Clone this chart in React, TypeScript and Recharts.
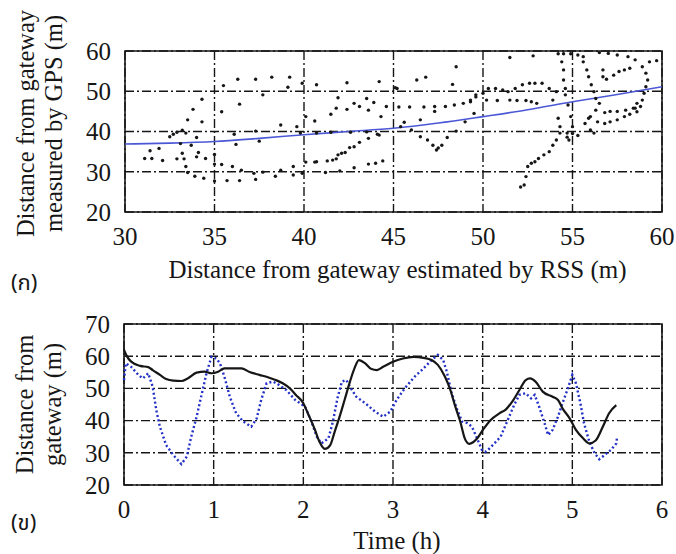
import React from "react";
import {
  ComposedChart,
  LineChart,
  Scatter,
  Line,
  XAxis,
  YAxis,
  CartesianGrid,
  ReferenceArea,
  Label,
} from "recharts";

// (a) RSS estimate vs GPS measurement, [rss, gps] in metres
const scatterPoints: [number, number][] = [
  [31.1, 33.3], [31.5, 33.3], [31.4, 35.2], [31.9, 35.8], [32.1, 32.8], [32.5, 38.7], [32.7, 39.3], [32.9, 39.8],
  [33.2, 40.3], [33.4, 39.6], [33.1, 37.0], [32.9, 33.2], [33.3, 33.2], [33.2, 34.6], [33.4, 31.3], [33.5, 42.9],
  [33.8, 45.5], [34.3, 48.0], [34.3, 42.4], [34.0, 38.5], [33.7, 36.6], [34.1, 34.8], [34.0, 33.7], [34.5, 33.3],
  [33.5, 29.8], [33.9, 28.9], [34.4, 28.4], [35.0, 34.3], [35.0, 31.9], [35.0, 27.7], [35.4, 44.9], [35.5, 51.4],
  [36.3, 53.0], [37.3, 53.0], [38.2, 53.5], [39.2, 53.5], [39.1, 51.0], [37.7, 49.1], [36.4, 46.8], [36.2, 36.8],
  [36.1, 39.3], [37.3, 40.1], [37.5, 37.6], [38.7, 41.6], [39.6, 41.2], [39.9, 52.0], [40.1, 43.7], [40.6, 42.6],
  [40.1, 32.4], [40.6, 32.4], [35.4, 31.8], [36.0, 31.3], [36.5, 30.4], [37.2, 29.6], [37.7, 29.9], [38.4, 28.9],
  [38.7, 30.4], [39.4, 31.3], [39.4, 29.2], [39.9, 29.6], [35.7, 27.8], [36.4, 27.8], [37.3, 28.1], [40.7, 51.6],
  [42.4, 52.1], [44.2, 52.4], [45.2, 50.7], [46.3, 52.8], [46.8, 53.5], [48.5, 56.1], [48.3, 51.7], [41.5, 44.3],
  [41.8, 45.8], [41.9, 48.4], [42.4, 45.5], [42.8, 47.0], [43.1, 46.2], [43.5, 48.2], [43.6, 45.3], [43.9, 47.2],
  [44.3, 43.7], [44.6, 46.2], [44.2, 39.1], [43.6, 38.3], [43.1, 37.3], [42.8, 36.2], [42.55, 36.0], [42.3, 34.8],
  [42.1, 34.6], [41.9, 34.2], [41.8, 33.2], [41.6, 32.9], [41.3, 32.7], [40.7, 32.5], [42.8, 31.0], [43.6, 31.9],
  [44.0, 32.1], [44.4, 32.7], [41.2, 29.8], [42.0, 30.2], [45.3, 46.1], [45.9, 46.1], [46.7, 46.1], [47.3, 46.2],
  [47.3, 45.0], [47.9, 46.2], [48.4, 46.6], [48.9, 47.0], [49.3, 47.4], [49.6, 48.6], [49.5, 44.5], [49.0, 42.4],
  [45.6, 42.3], [46.5, 42.9], [45.4, 41.2], [46.0, 40.4], [46.5, 38.7], [46.9, 37.9], [47.2, 36.6], [47.4, 35.4],
  [47.5, 35.9], [47.7, 36.6], [48.0, 38.5], [48.5, 40.1], [50.0, 49.5], [50.3, 50.7], [39.8, 39.6], [40.7, 39.6],
  [41.5, 39.8], [42.6, 39.8], [43.5, 39.9], [44.1, 39.3], [45.1, 50.9], [51.5, 58.4], [52.8, 58.8], [54.2, 59.3],
  [54.5, 59.3], [54.9, 59.3], [55.3, 59.0], [55.6, 58.6], [54.4, 57.3], [54.5, 55.3], [54.5, 52.8], [54.6, 50.7],
  [54.6, 49.1], [54.75, 46.6], [54.2, 43.3], [54.3, 41.2], [55.6, 57.3], [55.8, 55.3], [55.9, 53.6], [56.05, 51.6],
  [56.2, 49.9], [56.3, 48.2], [56.5, 47.0], [56.3, 45.3], [56.0, 43.7], [55.7, 42.0], [55.9, 43.3], [56.0, 40.4],
  [56.2, 39.6], [56.4, 42.4], [56.8, 42.0], [57.1, 42.4], [57.5, 42.9], [57.9, 43.7], [58.2, 44.3], [58.5, 45.8],
  [58.6, 47.0], [56.8, 44.7], [57.1, 45.0], [57.5, 45.0], [57.97, 45.3], [58.4, 45.8], [57.5, 59.0], [58.1, 58.6],
  [58.5, 57.8], [58.9, 56.1], [59.1, 54.5], [59.2, 52.8], [59.1, 51.1], [59.0, 49.5], [58.9, 47.8], [58.8, 46.2],
  [58.6, 44.9], [56.7, 55.3], [56.7, 53.6], [56.9, 53.0], [57.3, 54.0], [57.6, 54.9], [57.9, 55.3], [58.2, 55.7],
  [59.3, 57.3], [59.7, 57.6], [56.5, 59.6], [57.0, 59.4], [54.3, 39.6], [54.1, 37.9], [53.9, 36.6], [53.7, 35.0],
  [53.4, 34.2], [53.1, 33.3], [52.9, 32.5], [52.7, 32.1], [52.5, 31.3], [52.4, 28.8], [52.3, 26.7], [52.1, 26.2],
  [54.9, 43.7], [55.0, 41.2], [54.7, 39.6], [54.8, 37.9], [55.0, 39.5], [55.3, 39.0], [54.7, 38.6], [50.7, 50.7],
  [51.1, 50.3], [51.4, 49.9], [51.8, 50.7], [52.2, 51.6], [52.6, 52.0], [52.9, 52.0], [53.3, 52.0], [53.7, 50.7],
  [54.1, 49.9], [50.2, 47.8], [50.8, 47.7], [51.5, 47.8], [51.9, 47.7], [52.4, 47.7], [52.7, 47.4], [53.0, 47.0],
  [53.9, 47.8], [49.3, 47.8], [49.6, 49.1],
];

// fitted curve
const fitRss = [30, 32.5, 35, 37.5, 40, 42.5, 45, 47.5, 50, 52.5, 55, 57.5, 60];
const fitGps = [36.9, 37.1, 37.5, 38.3, 39.2, 40.0, 40.8, 42.1, 43.7, 45.4, 47.4, 49.2, 51.1];

const rssTicks = [30, 35, 40, 45, 50, 55, 60];
const gpsTicks = [20, 30, 40, 50, 60];

// (b) distance over time
const measuredTime = [
  0, 0.03, 0.08, 0.18, 0.27, 0.32, 0.4, 0.47, 0.55, 0.64, 0.71, 0.81, 0.9, 0.975, 1.05, 1.12, 1.22, 1.31, 1.4,
  1.51, 1.62, 1.7, 1.77, 1.85, 1.92, 2.0, 2.05, 2.13, 2.18, 2.24, 2.3, 2.35, 2.41, 2.46, 2.52, 2.57, 2.62, 2.69,
  2.76, 2.82, 2.89, 3.0, 3.11, 3.23, 3.34, 3.43, 3.5, 3.58, 3.64, 3.69, 3.75, 3.8, 3.85, 3.94, 4.01, 4.09, 4.19,
  4.26, 4.33, 4.41, 4.48, 4.53, 4.59, 4.67, 4.78, 4.84, 4.89, 4.97, 5.04, 5.12, 5.19, 5.26, 5.34, 5.41, 5.49,
];
const measuredDist = [
  62.0, 60.1, 58.3, 57.0, 56.6, 55.7, 54.2, 52.9, 52.4, 52.3, 53.1, 54.9, 55.2, 54.7, 55.2, 56.2, 56.2, 56.2, 55.1,
  54.2, 53.3, 52.5, 51.6, 50.0, 47.9, 45.4, 42.3, 37.1, 33.4, 31.2, 32.4, 36.6, 41.7, 46.4, 52.1, 56.2, 58.8, 57.8,
  56.0, 55.7, 56.7, 58.3, 59.3, 59.8, 59.5, 58.8, 57.3, 53.6, 49.5, 44.8, 39.7, 34.5, 32.8, 34.5, 37.4, 40.2, 42.3,
  43.5, 45.9, 49.5, 52.6, 53.1, 52.1, 49.0, 47.4, 46.4, 43.8, 40.7, 37.1, 34.5, 32.9, 33.8, 38.1, 42.3, 44.8,
];

const estimatedTime = [
  0, 0.02, 0.08, 0.16, 0.21, 0.27, 0.32, 0.36, 0.4, 0.47, 0.55, 0.64, 0.7, 0.75, 0.81, 0.86, 0.92, 0.975, 1.03,
  1.07, 1.12, 1.18, 1.25, 1.33, 1.42, 1.48, 1.53, 1.59, 1.66, 1.7, 1.81, 1.91, 2.02, 2.09, 2.15, 2.2, 2.28, 2.33,
  2.38, 2.43, 2.48, 2.52, 2.59, 2.69, 2.8, 2.89, 2.97, 3.04, 3.13, 3.24, 3.34, 3.43, 3.5, 3.56, 3.6, 3.65, 3.71,
  3.77, 3.83, 3.88, 3.93, 3.99, 4.03, 4.06, 4.13, 4.2, 4.28, 4.35, 4.41, 4.48, 4.54, 4.58, 4.63, 4.69, 4.73, 4.78,
  4.84, 4.89, 4.95, 5.0, 5.04, 5.09, 5.13, 5.19, 5.25, 5.3, 5.36, 5.43, 5.49, 5.5,
];
const estimatedDist = [
  52.6, 57.8, 56.7, 54.2, 53.1, 54.7, 50.5, 43.3, 38.1, 32.4, 29.3, 26.5, 28.8, 35.0, 41.2, 47.4, 54.7, 59.8, 59.3,
  57.8, 53.6, 47.4, 42.3, 39.7, 38.1, 40.7, 46.4, 51.6, 52.1, 51.6, 49.5, 46.4, 44.3, 39.7, 35.0, 32.9, 34.5, 39.7,
  46.9, 52.1, 52.6, 50.5, 47.4, 45.4, 42.8, 41.2, 42.8, 46.4, 50.0, 53.6, 56.2, 58.8, 60.4, 58.8, 55.2, 49.0, 43.8,
  39.7, 39.2, 38.1, 35.0, 31.0, 30.3, 30.9, 32.9, 35.0, 40.2, 44.8, 48.0, 48.5, 46.9, 48.0, 44.3, 39.2, 35.5, 37.1,
  41.2, 45.4, 50.0, 54.2, 51.6, 45.4, 39.2, 33.4, 29.8, 28.0, 29.3, 30.9, 32.9, 35.0,
];

const timeTicks = [0, 1, 2, 3, 4, 5, 6];
const distTicks = [20, 30, 40, 50, 60, 70];

const SERIF = '"Liberation Serif", "Times New Roman", serif';
const INK = "#161616";
const GRID_DASH = "9 3 2 3";

const tickStyle = { fill: INK, fontSize: 25, style: { fontFamily: SERIF } };

// two rotated lines to the left of a y axis
const stackedTitle = (lines: string[], shift: number) => (props: any) => {
  const vb = props.viewBox || { x: 0, y: 0, width: 0, height: 0 };
  const cy = vb.y + vb.height / 2 + shift;
  return (
    <g>
      {lines.map((t, i) => {
        const x = vb.x - 40 + i * 28;
        return (
          <text
            key={t}
            x={x}
            y={cy}
            transform={`rotate(-90 ${x} ${cy})`}
            textAnchor="middle"
            dominantBaseline="central"
            style={{ fontFamily: SERIF, fontSize: 24.5 }}
            fill={INK}
          >
            {t}
          </text>
        );
      })}
    </g>
  );
};

const bottomTitle = (text: string, drop: number) => (props: any) => {
  const vb = props.viewBox || { x: 0, y: 0, width: 0, height: 0 };
  return (
    <text
      x={vb.x + vb.width / 2 + 4}
      y={vb.y + drop}
      textAnchor="middle"
      style={{ fontFamily: SERIF, fontSize: 25 }}
      fill={INK}
    >
      {text}
    </text>
  );
};

const dotShape = (p: any) => <circle cx={p.cx} cy={p.cy} r={1.7} fill={INK} />;

const panelTag = {
  position: "absolute" as const,
  left: 11,
  fontFamily: '"Noto Sans Thai", "DejaVu Sans", "Noto Sans", sans-serif',
  fontSize: 22,
  color: INK,
  lineHeight: "24px",
};

export default function App() {
  const scatterData = scatterPoints.map(([x, y]) => ({ x, y }));
  const fitData = fitRss.map((x, i) => ({ x, y: fitGps[i] }));
  const measuredData = measuredTime.map((t, i) => ({ t, d: measuredDist[i] }));
  const estimatedData = estimatedTime.map((t, i) => ({ t, d: estimatedDist[i] }));

  return (
    <div
      style={{
        position: "absolute",
        left: 0,
        top: 0,
        width: 676,
        height: 554,
        background: "#fff",
        fontFamily: SERIF,
      }}
    >
      <div style={{ position: "absolute", left: 0, top: 0 }}>
        <ComposedChart
          width={676}
          height={300}
          margin={{ top: 51, right: 14, bottom: 58, left: 65 }}
          style={{ fontFamily: SERIF }}
        >
          <CartesianGrid stroke={INK} strokeWidth={1.4} strokeDasharray={GRID_DASH} />
          <XAxis
            type="number"
            dataKey="x"
            domain={[30, 60]}
            ticks={rssTicks}
            interval={0}
            height={30}
            axisLine={false}
            tickLine={false}
            tickMargin={9}
            tick={tickStyle}
          >
            <Label content={bottomTitle("Distance from gateway estimated by RSS (m)", 66)} />
          </XAxis>
          <YAxis
            type="number"
            dataKey="y"
            domain={[20, 60]}
            ticks={gpsTicks}
            interval={0}
            width={60}
            axisLine={false}
            tickLine={false}
            tickMargin={8}
            tick={tickStyle}
          >
            <Label content={stackedTitle(["Distance from gateway", "measured by GPS (m)"], -8)} />
          </YAxis>
          <ReferenceArea x1={30} x2={60} y1={20} y2={60} fill="none" stroke={INK} strokeWidth={1.6} />
          <Scatter data={scatterData} shape={dotShape} isAnimationActive={false} />
          <Line
            data={fitData}
            dataKey="y"
            type="monotone"
            stroke="#4b58d6"
            strokeWidth={1.6}
            dot={false}
            isAnimationActive={false}
          />
        </ComposedChart>
        <div style={{ ...panelTag, top: 272 }}>(ก)</div>
      </div>

      <div style={{ position: "absolute", left: 0, top: 300 }}>
        <LineChart
          width={676}
          height={254}
          margin={{ top: 24, right: 14, bottom: 39, left: 64 }}
          style={{ fontFamily: SERIF }}
        >
          <CartesianGrid stroke={INK} strokeWidth={1.4} strokeDasharray={GRID_DASH} />
          <XAxis
            type="number"
            dataKey="t"
            domain={[0, 6]}
            ticks={timeTicks}
            interval={0}
            height={30}
            axisLine={false}
            tickLine={false}
            tickMargin={9}
            tick={tickStyle}
          >
            <Label content={bottomTitle("Time (h)", 64)} />
          </XAxis>
          <YAxis
            type="number"
            dataKey="d"
            domain={[20, 70]}
            ticks={distTicks}
            interval={0}
            width={60}
            axisLine={false}
            tickLine={false}
            tickMargin={8}
            tick={tickStyle}
          >
            <Label content={stackedTitle(["Distance from", "gateway (m)"], 0)} />
          </YAxis>
          <ReferenceArea x1={0} x2={6} y1={20} y2={70} fill="none" stroke={INK} strokeWidth={1.6} />
          <Line
            data={estimatedData}
            dataKey="d"
            type="linear"
            stroke="#2230c8"
            strokeWidth={2.4}
            strokeDasharray="2 2.5"
            dot={false}
            isAnimationActive={false}
          />
          <Line
            data={measuredData}
            dataKey="d"
            type="monotone"
            stroke={INK}
            strokeWidth={2.2}
            dot={false}
            isAnimationActive={false}
          />
        </LineChart>
        <div style={{ ...panelTag, top: 212 }}>(ข)</div>
      </div>
    </div>
  );
}
